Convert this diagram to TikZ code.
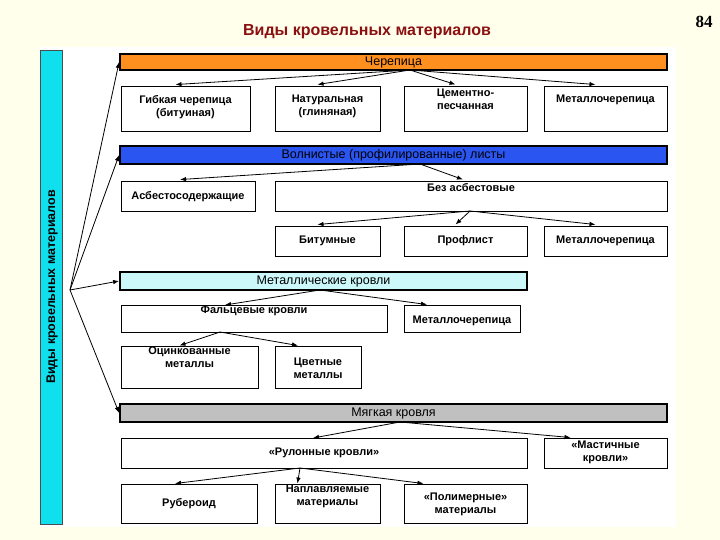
\documentclass[tikz,border=0pt]{standalone}
\usepackage{fontspec}
\setmainfont{Liberation Sans}
\newfontfamily\serifpg{Liberation Serif}
\usetikzlibrary{calc,arrows.meta}
\definecolor{bg}{HTML}{FFFFEC}
\definecolor{orng}{HTML}{FF9020}
\definecolor{blu}{HTML}{2A55F0}
\definecolor{lcy}{HTML}{CCF8FA}
\definecolor{gry}{HTML}{C0C0C0}
\definecolor{cyb}{HTML}{10E0EE}
\definecolor{ttl}{HTML}{8B1010}
\tikzset{
 bx/.style={draw=black,line width=0.9pt,fill=white,inner sep=1pt,align=center,font=\fontsize{11}{13}\selectfont\bfseries},
 hd/.style={draw=black,line width=1.8pt,inner sep=0pt,align=center},
 hdt/.style={font=\fontsize{12.5}{14}\selectfont},
 ar/.style={-{Latex[length=6pt,width=4.5pt]},line width=0.8pt}
}
\newcommand{\bxat}[6]{\node[#6,minimum width=#3-#1,minimum height=#4-#2] (#5) at ({(#1+#3)/2},{(#2+#4)/2}) {};}
\begin{document}
\begin{tikzpicture}[x=1pt,y=-1pt]
\useasboundingbox[fill=bg] (0,0) rectangle (720,540);
\fill[white] (40,47) rectangle (676,527);
\node[font=\fontsize{16}{18}\selectfont\bfseries,text=ttl] (title) at (367,32) {Виды кровельных материалов};
\node[font=\fontsize{17}{19}\selectfont\bfseries\serifpg] (pg) at (704,22) {84};
% left bar
\node[draw=black!70,line width=0.8pt,fill=cyb,minimum width=22,minimum height=474,inner sep=0pt] (bar) at (51,287) {};
\node[rotate=90,font=\fontsize{12.5}{14}\selectfont\bfseries] (bartx) at (52,287) {Виды кровельных материалов};
% headers
\bxat{120}{54}{667}{70}{cher}{hd,fill=orng}
\node[hdt] at (cher) {Черепица};
\bxat{120}{146}{667}{164}{voln}{hd,fill=blu}
\node[hdt] at (voln) {Волнистые (профилированные) листы};
\bxat{120}{272}{527}{290}{met}{hd,fill=lcy}
\node[hdt] at (met) {Металлические кровли};
\bxat{120}{404}{667}{422}{myag}{hd,fill=gry}
\node[hdt] at (myag) {Мягкая кровля};
% row 1
\bxat{121}{86}{250}{131}{gib}{bx}\node[bx,draw=none,fill=none,anchor=north] at ($(gib.north)+(0,8)$) {Гибкая черепица\\(битуиная)};
\bxat{275}{86}{380}{131}{nat}{bx}\node[bx,draw=none,fill=none,anchor=north] at ($(nat.north)+(0,8)$) {Натуральная\\(глиняная)};
\bxat{404}{86}{527}{131}{cem}{bx}\node[bx,draw=none,fill=none,anchor=north] at ($(cem.north)+(0,2)$) {Цементно-\\песчанная};
\bxat{544}{86}{667}{131}{mch1}{bx}\node[bx,draw=none,fill=none,anchor=north] at ($(mch1.north)+(0,8)$) {Металлочерепица};
% row 2
\bxat{121}{181}{255}{211}{asb}{bx}\node[bx,draw=none,fill=none] at ($(asb)+(0,1)$) {Асбестосодержащие};
\bxat{275}{181}{667}{211}{bez}{bx}\node[bx,draw=none,fill=none,anchor=north] at ($(bez.north)+(0,1)$) {Без асбестовые};
\bxat{275}{226}{380}{256}{bit}{bx}\node[bx,draw=none,fill=none] at (bit) {Битумные};
\bxat{404}{226}{527}{256}{prof}{bx}\node[bx,draw=none,fill=none] at (prof) {Профлист};
\bxat{544}{226}{667}{256}{mch2}{bx}\node[bx,draw=none,fill=none] at (mch2) {Металлочерепица};
% metal
\bxat{121}{305}{387}{332}{falc}{bx}\node[bx,draw=none,fill=none,anchor=north] at ($(falc.north)+(0,0)$) {Фальцевые кровли};
\bxat{404}{305}{520}{332}{mch3}{bx}\node[bx,draw=none,fill=none] at ($(mch3)+(0,2)$) {Металлочерепица};
\bxat{121}{346}{258}{388}{ocin}{bx}\node[bx,draw=none,fill=none,anchor=north] at ($(ocin.north)+(0,0)$) {Оцинкованные\\металлы};
\bxat{275}{346}{361}{388}{cvet}{bx}\node[bx,draw=none,fill=none] at ($(cvet)+(0,1)$) {Цветные\\металлы};
% soft
\bxat{121}{438}{527}{468}{rul}{bx}\node[bx,draw=none,fill=none] at (rul) {«Рулонные кровли»};
\bxat{544}{438}{667}{468}{mast}{bx}\node[bx,draw=none,fill=none] at ($(mast)+(0,-1)$) {«Мастичные\\кровли»};
\bxat{121}{484}{257}{523}{rub}{bx}\node[bx,draw=none,fill=none] at (rub) {Рубероид};
\bxat{275}{484}{380}{523}{napl}{bx}\node[bx,draw=none,fill=none,anchor=north] at ($(napl.north)+(0,0)$) {Наплавляемые\\материалы};
\bxat{404}{484}{527}{523}{pol}{bx}\node[bx,draw=none,fill=none] at ($(pol)+(0,1)$) {«Полимерные»\\материалы};
% connectors
\coordinate (o) at (70,290);
\foreach \t in {cher,voln,met,myag} \draw[ar] (o) -- (\t.west);
\coordinate (c1) at (410,70);
\foreach \t in {gib,nat,cem,mch1} \draw[ar] (c1) -- ($(\t.north)+(-10,-1)$);
\coordinate (c2) at (420,164);
\foreach \t in {asb,bez} \draw[ar] (c2) -- ($(\t.north)+(-8,-1)$);
\coordinate (c3) at (470,211);
\foreach \t in {bit,prof,mch2} \draw[ar] (c3) -- ($(\t.north)+(-10,-1)$);
\coordinate (c4) at (320,290);
\draw[ar] (c4) -- (225,305);
\draw[ar] (c4) -- ($(mch3.north)+(-35,0)$);
\coordinate (c5) at (220,332);
\draw[ar] (c5) -- ($(ocin.north)+(-10,0)$);
\draw[ar] (c5) -- ($(cvet.north)+(-20,0)$);
\coordinate (c6) at (400,422);
\draw[ar] (c6) -- (313,438);
\draw[ar] (c6) -- ($(mast.north)+(-35,0)$);
\coordinate (c7) at (300,468);
\draw[ar] (c7) -- ($(rub.north)+(-14,0)$);
\draw[ar] (c7) -- ($(napl.north)+(-30,0)$);
\draw[ar] (c7) -- ($(pol.north)+(-42,0)$);
\end{tikzpicture}
\end{document}
